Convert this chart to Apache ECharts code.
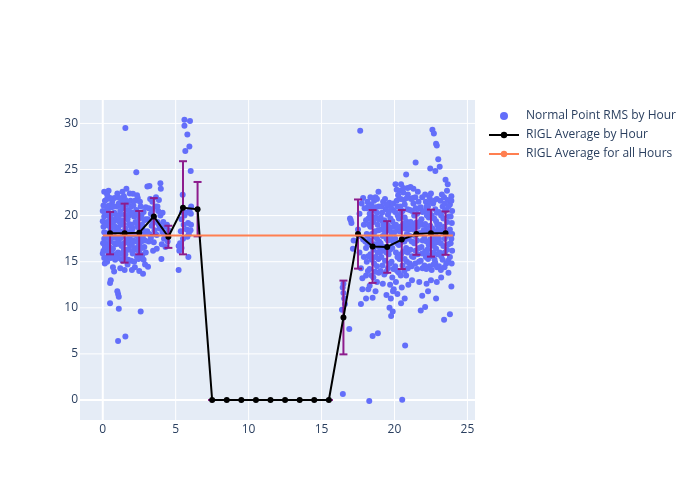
<!DOCTYPE html>
<html>
<head>
<meta charset="utf-8">
<script src="https://cdn.jsdelivr.net/npm/echarts@6/dist/echarts.min.js"></script>
<style>html,body{margin:0;padding:0;background:#fff}#c{width:700px;height:500px}</style>
</head>
<body>
<div id="c"></div>
<script>
// ---- Data ----
const xTicks = [0, 5, 10, 15, 20, 25];
const yTicks = [0, 5, 10, 15, 20, 25, 30];

const hours = [0.5,1.5,2.5,3.5,4.5,5.5,6.5,7.5,8.5,9.5,10.5,11.5,12.5,13.5,14.5,15.5,16.5,17.5,18.5,19.5,20.5,21.5,22.5,23.5];
const hourAvg = [18.1,18.1,18.15,19.9,17.7,20.85,20.7,0,0,0,0,0,0,0,0,0,8.95,18.0,16.65,16.6,17.4,18.0,18.1,18.1];
const hourStd = [2.3,3.2,2.35,2.0,1.2,5.05,2.95,0,0,0,0,0,0,0,0,0,4.0,3.75,3.95,2.8,3.2,2.25,2.55,2.35];
const overallAvg = 17.85;
const overallRange = [0, 24];

const pts0 = [[0.05,16.2],[0.1,17.5],[0.05,18.8],[0.1,19.9],[0.15,21.6],[0.1,22.6],[0.2,15.4],[0.3,16.8],[0.25,18.1],[0.3,19.3],[0.35,20.6],[0.3,21.8],[0.4,22.7],[0.45,15.9],[0.5,17.2],[0.55,18.5],[0.5,19.8],[0.6,20.9],[0.65,21.5],[0.7,16.4],[0.75,17.8],[0.7,19.0],[0.8,20.3],[0.85,15.2],[0.9,16.9],[0.9,18.3],[0.85,19.6],[0.95,21.0],[0.7,14.4],[0.78,13.95],[0.55,13.0],[0.5,12.7],[0.14,14.8],[0.5,10.5],[0.0,19.4],[0.02,17.0],[0.2,20.2],[0.4,18.9],[0.65,17.6],[0.8,21.9],[0.35,15.5],[0.0,15.9],[0.15,17.0],[0.45,21.1],[0.6,16.2],[0.25,16.3],[0.75,19.4]];
const pts0b = [[0.0,20.5],[0.05,21.1],[0.1,18.2],[0.15,16.6],[0.2,19.0],[0.25,21.0],[0.3,15.0],[0.35,17.6],[0.4,20.0],[0.45,16.6],[0.5,21.9],[0.55,15.4],[0.6,18.0],[0.6,19.4],[0.65,20.2],[0.7,15.6],[0.75,21.0],[0.8,17.0],[0.85,18.8],[0.9,15.8],[0.95,19.9],[0.95,17.6],[0.2,17.6],[0.4,16.2],[0.1,15.4],[0.3,22.3]];
const pts1 = [[1.05,16.0],[1.1,17.4],[1.05,18.7],[1.15,20.1],[1.1,21.3],[1.0,22.4],[1.25,15.3],[1.3,16.7],[1.35,18.2],[1.3,19.5],[1.4,20.8],[1.45,22.1],[1.62,22.9],[1.55,15.8],[1.6,17.1],[1.55,18.6],[1.65,19.9],[1.6,21.2],[1.85,22.4],[1.7,14.7],[1.8,16.3],[1.85,17.7],[1.8,19.1],[1.9,20.4],[1.9,21.6],[1.95,15.1],[1.2,14.3],[1.5,14.1],[1.05,11.5],[1.1,11.2],[1.0,11.8],[1.1,9.9],[1.05,6.4],[1.55,6.9],[1.55,29.5],[1.4,17.9],[1.7,20.6],[1.25,19.0],[1.95,18.4],[1.35,21.7],[1.2,16.9],[1.75,18.0],[1.45,16.3],[1.15,18.3]];
const pts1b = [[1.0,15.4],[1.05,17.1],[1.1,19.4],[1.15,21.9],[1.2,15.9],[1.2,20.5],[1.25,17.6],[1.3,21.0],[1.35,15.1],[1.4,19.1],[1.45,17.0],[1.5,20.1],[1.5,15.5],[1.55,21.7],[1.6,16.3],[1.65,18.2],[1.7,19.6],[1.7,17.4],[1.75,21.5],[1.75,15.2],[1.8,20.0],[1.85,16.8],[1.9,18.9],[1.95,17.3],[1.95,21.0],[1.05,19.9],[1.35,22.6]];
const pts2 = [[2.05,15.9],[2.1,17.3],[2.05,18.6],[2.15,19.9],[2.1,21.1],[2.07,22.36],[2.2,14.4],[2.3,16.5],[2.25,17.9],[2.35,19.2],[2.3,20.6],[2.4,21.9],[2.3,24.7],[2.45,15.3],[2.5,16.9],[2.55,18.3],[2.5,19.7],[2.6,21.0],[2.5,14.0],[2.6,9.6],[2.7,15.7],[2.75,17.6],[2.7,19.0],[2.8,20.4],[2.76,13.7],[2.9,14.7],[2.85,16.6],[2.9,18.1],[2.95,19.6],[2.95,20.9],[2.15,16.3],[2.4,18.8],[2.65,17.2],[2.2,20.3],[2.0,14.1],[2.45,17.6]];
const pts2b = [[2.0,16.8],[2.05,20.2],[2.1,18.0],[2.15,15.0],[2.2,21.6],[2.25,19.3],[2.3,17.2],[2.35,15.5],[2.4,20.2],[2.45,16.2],[2.5,18.6],[2.55,21.5],[2.55,15.9],[2.6,17.7],[2.65,20.0],[2.7,16.5],[2.75,18.4],[2.8,15.2],[2.85,19.5],[2.9,17.3],[2.95,16.0],[2.0,19.0],[2.35,22.2]];
const pts3 = [[3.05,18.3],[3.1,19.6],[3.15,20.8],[3.2,23.2],[3.06,23.15],[3.3,17.6],[3.35,18.9],[3.3,20.2],[3.4,21.5],[3.5,17.1],[3.55,18.4],[3.5,19.8],[3.6,21.0],[3.65,22.0],[3.7,17.9],[3.75,19.3],[3.8,20.5],[3.85,21.7],[3.9,18.6],[3.95,20.0],[3.95,23.5],[3.98,22.9],[3.1,14.45],[3.45,16.2],[3.7,16.4],[3.25,21.8],[3.2,18.0],[3.45,19.2],[3.6,18.0],[3.85,19.0],[3.4,20.7],[3.15,17.2],[3.75,21.0]];
const pts4 = [[4.05,16.9],[4.1,18.2],[4.15,19.3],[4.2,17.5],[4.25,18.8],[4.3,16.6],[4.35,17.8],[4.4,19.0],[4.45,17.2],[4.5,18.4],[4.02,15.3],[4.1,20.3]];
const pts5 = [[5.2,14.1],[5.25,16.2],[5.3,17.0],[5.2,16.7],[5.35,18.3],[5.4,19.6],[5.45,20.4],[5.48,22.25],[5.55,19.0],[5.6,20.0],[5.6,30.4],[5.6,29.75],[5.66,27.0],[5.8,28.8],[5.94,27.5],[5.98,30.25],[5.7,20.3],[5.75,18.5],[5.8,17.7],[5.85,19.2],[5.87,15.5],[5.9,18.0],[5.95,20.5],[5.5,17.5],[5.4,16.5]];
const pts6 = [[6.03,24.85],[6.02,18.4],[6.05,19.0],[6.04,20.2],[6.06,21.0]];
const pts16 = [[16.46,0.65],[16.45,12.2],[16.5,11.6],[16.55,11.0],[16.6,10.4],[16.5,12.6],[16.9,7.7],[16.4,9.8]];
const pts17 = [[17.0,19.5],[17.05,19.2],[16.95,19.7],[17.2,17.3],[17.15,16.4],[17.65,29.2],[17.7,10.4],[17.8,12.0],[17.5,18.5],[17.6,20.2],[17.75,21.3],[17.6,16.0],[17.7,14.3],[17.85,17.4],[17.9,19.0],[17.8,13.2],[17.95,20.8],[17.9,15.5],[17.55,17.8],[17.85,21.9]];
const pts18 = [[18.05,11.0],[18.27,-0.1],[18.5,6.95],[18.86,7.25],[18.5,11.1],[18.9,22.6],[18.7,22.0],[18.6,21.6],[18.8,21.8],[18.05,13.5],[18.1,15.0],[18.05,16.5],[18.1,18.0],[18.05,19.5],[18.1,20.8],[18.3,12.4],[18.3,14.2],[18.35,15.8],[18.3,17.3],[18.35,18.8],[18.3,20.2],[18.4,21.2],[18.55,13.3],[18.6,14.8],[18.55,16.3],[18.6,17.8],[18.55,19.3],[18.6,20.6],[18.8,12.8],[18.8,14.5],[18.85,16.0],[18.8,17.5],[18.85,19.0],[18.8,20.3],[18.2,12.0],[18.7,11.8],[18.15,17.0],[18.45,18.0],[18.7,19.8],[18.9,18.4],[18.25,19.0],[18.65,16.9],[18.95,17.2],[18.4,20.0],[18.5,20.9],[18.15,21.5]];
const pts18b = [[18.18,14.0],[18.2,15.6],[18.18,17.8],[18.22,19.7],[18.2,21.0],[18.43,13.5],[18.45,15.2],[18.42,16.8],[18.45,19.5],[18.68,13.9],[18.7,15.5],[18.68,18.3],[18.72,20.9],[18.92,13.8],[18.9,15.3],[18.93,16.6],[18.9,19.6],[18.92,21.0],[18.0,17.2],[18.35,22.0]];
const pts19 = [[19.05,14.0],[19.1,15.5],[19.05,17.0],[19.1,18.5],[19.05,19.8],[19.1,21.0],[19.3,13.6],[19.35,15.1],[19.3,16.6],[19.35,18.1],[19.3,19.5],[19.4,20.7],[19.35,21.8],[19.55,14.3],[19.6,15.8],[19.55,17.3],[19.6,18.8],[19.55,20.1],[19.65,21.4],[19.8,15.0],[19.85,16.5],[19.8,18.0],[19.85,19.4],[19.9,20.6],[19.77,9.1],[19.88,9.6],[19.66,10.0],[19.75,11.0],[19.9,11.8],[19.7,12.5],[19.85,13.3],[19.95,12.0],[19.2,12.6],[19.45,11.4],[19.2,17.8],[19.5,19.0],[19.7,17.6],[19.15,20.3],[19.45,16.0],[19.75,20.9],[19.25,18.9],[19.6,20.4]];
const pts19b = [[19.18,14.6],[19.2,16.2],[19.18,19.4],[19.22,21.5],[19.43,13.9],[19.45,17.5],[19.42,18.5],[19.45,21.2],[19.68,14.8],[19.7,16.3],[19.68,18.4],[19.72,19.7],[19.92,14.2],[19.9,17.2],[19.93,18.8],[19.92,21.3],[19.0,16.0]];
const pts20 = [[20.53,0.03],[20.73,5.9],[20.8,24.45],[20.07,23.4],[20.45,23.4],[20.35,22.7],[20.9,23.0],[20.05,14.5],[20.1,16.0],[20.05,17.5],[20.1,19.0],[20.05,20.4],[20.15,21.6],[20.3,13.8],[20.35,15.3],[20.3,16.8],[20.35,18.3],[20.3,19.7],[20.4,21.0],[20.25,22.2],[20.55,14.6],[20.6,16.1],[20.55,17.6],[20.6,19.1],[20.55,20.5],[20.65,21.7],[20.6,22.5],[20.8,13.5],[20.85,15.0],[20.8,16.5],[20.85,18.0],[20.8,19.4],[20.9,20.7],[20.85,21.9],[20.2,11.5],[20.5,12.2],[20.7,11.0],[20.1,12.8],[20.45,10.5],[20.95,12.5],[20.2,18.5],[20.7,19.8],[20.4,17.0]];
const pts20b = [[20.18,14.0],[20.2,15.5],[20.18,17.0],[20.22,20.0],[20.2,21.0],[20.43,13.5],[20.45,15.8],[20.42,18.8],[20.45,20.3],[20.43,21.8],[20.68,14.0],[20.7,15.3],[20.68,17.2],[20.72,18.6],[20.7,21.2],[20.92,14.3],[20.9,16.0],[20.93,17.5],[20.9,19.0],[20.92,22.3],[20.0,18.2],[20.15,22.8],[20.6,23.0]];
const pts21 = [[21.45,25.75],[21.8,9.7],[21.9,11.3],[21.1,23.1],[21.3,22.9],[21.6,22.6],[21.05,14.8],[21.1,16.3],[21.05,17.8],[21.1,19.3],[21.05,20.6],[21.15,21.8],[21.3,15.5],[21.35,17.0],[21.3,18.5],[21.35,20.0],[21.3,21.3],[21.55,14.2],[21.6,15.8],[21.55,17.3],[21.6,18.8],[21.55,20.2],[21.65,21.5],[21.8,15.1],[21.85,16.6],[21.8,18.1],[21.85,19.6],[21.8,20.9],[21.9,22.0],[21.2,13.0],[21.7,12.8],[21.45,19.2]];
const pts21b = [[21.18,14.5],[21.2,15.6],[21.18,17.2],[21.22,18.8],[21.2,20.5],[21.43,14.8],[21.45,16.2],[21.42,17.8],[21.45,20.8],[21.43,22.0],[21.68,15.0],[21.7,16.5],[21.68,18.1],[21.72,19.3],[21.7,20.8],[21.92,14.3],[21.9,15.9],[21.93,17.3],[21.9,19.0],[21.92,20.4],[21.0,18.5],[21.25,21.9]];
const pts22 = [[22.6,29.3],[22.7,28.9],[22.85,27.8],[22.9,27.6],[22.45,25.1],[22.8,24.85],[22.1,10.1],[22.85,11.0],[22.2,12.6],[22.3,11.8],[22.1,22.3],[22.05,14.6],[22.1,16.1],[22.05,17.6],[22.1,19.1],[22.05,20.5],[22.15,21.5],[22.3,15.3],[22.35,16.8],[22.3,18.3],[22.35,19.8],[22.3,21.0],[22.4,22.0],[22.55,14.1],[22.6,15.6],[22.55,17.1],[22.6,18.6],[22.55,20.0],[22.65,21.3],[22.8,14.9],[22.85,16.4],[22.8,17.9],[22.85,19.4],[22.8,20.7],[22.9,21.8],[22.2,17.2],[22.45,18.9],[22.7,17.5],[22.95,18.3],[22.5,13.0],[22.9,12.8],[22.15,15.5],[22.4,14.5],[22.65,16.0],[22.75,15.2],[22.25,16.3],[22.95,15.8]];
const pts22b = [[22.18,14.2],[22.2,15.9],[22.18,18.6],[22.22,20.0],[22.2,21.0],[22.43,15.7],[22.45,17.4],[22.42,20.4],[22.45,21.5],[22.68,14.7],[22.7,16.7],[22.68,18.2],[22.72,19.7],[22.7,21.6],[22.92,14.4],[22.9,17.1],[22.93,19.0],[22.9,20.3],[22.0,18.4],[22.5,22.4]];
const pts23 = [[23.0,26.1],[23.1,25.3],[23.5,23.9],[23.65,23.4],[23.6,22.7],[23.4,8.7],[23.8,9.3],[23.9,12.3],[23.05,14.5],[23.1,16.0],[23.05,17.5],[23.1,19.0],[23.05,20.4],[23.15,21.6],[23.3,15.2],[23.35,16.7],[23.3,18.2],[23.35,19.7],[23.3,21.0],[23.4,22.0],[23.55,14.8],[23.6,16.3],[23.55,17.8],[23.6,19.3],[23.55,20.6],[23.65,21.7],[23.8,15.5],[23.85,17.0],[23.8,18.5],[23.85,19.9],[23.8,21.2],[23.9,22.1],[23.95,16.2],[23.95,18.0],[23.95,20.5],[23.2,13.3],[23.7,13.8],[23.45,17.5]];
const pts23b = [[23.18,14.1],[23.2,15.6],[23.18,17.0],[23.22,18.4],[23.2,20.0],[23.43,14.4],[23.45,16.0],[23.42,18.8],[23.45,20.5],[23.43,21.3],[23.68,15.1],[23.7,16.9],[23.68,18.2],[23.72,19.9],[23.7,21.0],[23.92,14.8],[23.9,17.5],[23.93,19.2],[23.9,21.6],[23.0,18.6],[23.25,22.3]];

// ---- Build chart ----
const scatterPts = [].concat(pts0, pts0b, pts1, pts1b, pts2, pts2b, pts3, pts4, pts5, pts6, pts16, pts17,
  pts18, pts18b, pts19, pts19b, pts20, pts20b, pts21, pts21b, pts22, pts22b, pts23, pts23b);
const X_MIN = -1.56, X_MAX = 25.52, Y_MIN = -2.17, Y_MAX = 32.54;
const FONT = '"Open Sans", verdana, arial, sans-serif';
const TXT = '#2a3f5f';

const chart = echarts.init(document.getElementById('c'), null, {renderer: 'canvas'});

function gridLineSeries(vertical, ticks) {
  return {
    type: 'custom', silent: true, z: 1, clip: true,
    data: ticks.map(v => vertical ? [v, 0] : [0, v]),
    encode: {x: 0, y: 1},
    renderItem: function (params, api) {
      const cs = params.coordSys;
      const v = api.value(vertical ? 0 : 1);
      const p = api.coord(vertical ? [v, 0] : [0, v]);
      const w = v === 0 ? 2 : 1;
      const shape = vertical
        ? {x1: p[0], y1: cs.y, x2: p[0], y2: cs.y + cs.height}
        : {x1: cs.x, y1: p[1], x2: cs.x + cs.width, y2: p[1]};
      return {type: 'line', shape: shape, style: {stroke: '#ffffff', lineWidth: w}};
    }
  };
}

const option = {
  animation: false,
  textStyle: {fontFamily: FONT, color: TXT},
  grid: {left: 80, top: 100, width: 395, height: 320, show: true, backgroundColor: '#E5ECF6', borderWidth: 0},
  legend: {
    orient: 'vertical', left: 483, top: 105, itemWidth: 30, itemHeight: 8, itemGap: 7,
    textStyle: {fontFamily: FONT, fontSize: 12, color: TXT, padding: [0, 0, 0, 2]},
    data: [
      {name: 'Normal Point RMS by Hour', icon: 'circle'},
      {name: 'RIGL Average by Hour'},
      {name: 'RIGL Average for all Hours'}
    ]
  },
  xAxis: {
    type: 'value', min: X_MIN, max: X_MAX,
    axisLine: {show: false}, axisTick: {show: false}, splitLine: {show: false},
    axisLabel: {customValues: xTicks, color: TXT, fontSize: 12, fontFamily: FONT, margin: 4}
  },
  yAxis: {
    type: 'value', min: Y_MIN, max: Y_MAX,
    axisLine: {show: false}, axisTick: {show: false}, splitLine: {show: false},
    axisLabel: {customValues: yTicks, color: TXT, fontSize: 12, fontFamily: FONT, margin: 2}
  },
  series: [
    gridLineSeries(true, xTicks),
    gridLineSeries(false, yTicks),
    {
      name: 'Normal Point RMS by Hour', type: 'scatter', z: 2,
      symbol: 'circle', symbolSize: 6,
      itemStyle: {color: '#636efa', opacity: 1},
      data: scatterPts
    },
    {
      name: 'errbars', type: 'custom', z: 3, silent: true,
      data: hours.map((h, i) => [h, hourAvg[i], hourStd[i]]),
      encode: {x: 0, y: 1},
      renderItem: function (params, api) {
        const x = api.value(0), y = api.value(1), s = api.value(2);
        const t = api.coord([x, y + s]);
        const b = api.coord([x, y - s]);
        const hw = 4;
        const st = {stroke: '#8d1c8d', lineWidth: 2};
        return {type: 'group', children: [
          {type: 'line', shape: {x1: t[0], y1: t[1], x2: b[0], y2: b[1]}, style: st},
          {type: 'line', shape: {x1: t[0] - hw, y1: t[1], x2: t[0] + hw, y2: t[1]}, style: st},
          {type: 'line', shape: {x1: b[0] - hw, y1: b[1], x2: b[0] + hw, y2: b[1]}, style: st}
        ]};
      }
    },
    {
      name: 'RIGL Average by Hour', type: 'line', z: 4,
      symbol: 'circle', symbolSize: 6, showSymbol: true,
      lineStyle: {color: '#000000', width: 2},
      itemStyle: {color: '#000000'},
      data: hours.map((h, i) => [h, hourAvg[i]])
    },
    {
      name: 'RIGL Average for all Hours', type: 'line', z: 5,
      symbol: 'none',
      lineStyle: {color: '#FF7F50', width: 2},
      itemStyle: {color: '#FF7F50'},
      data: overallRange.map(x => [x, overallAvg])
    }
  ]
};
chart.setOption(option);
</script>
</body>
</html>
